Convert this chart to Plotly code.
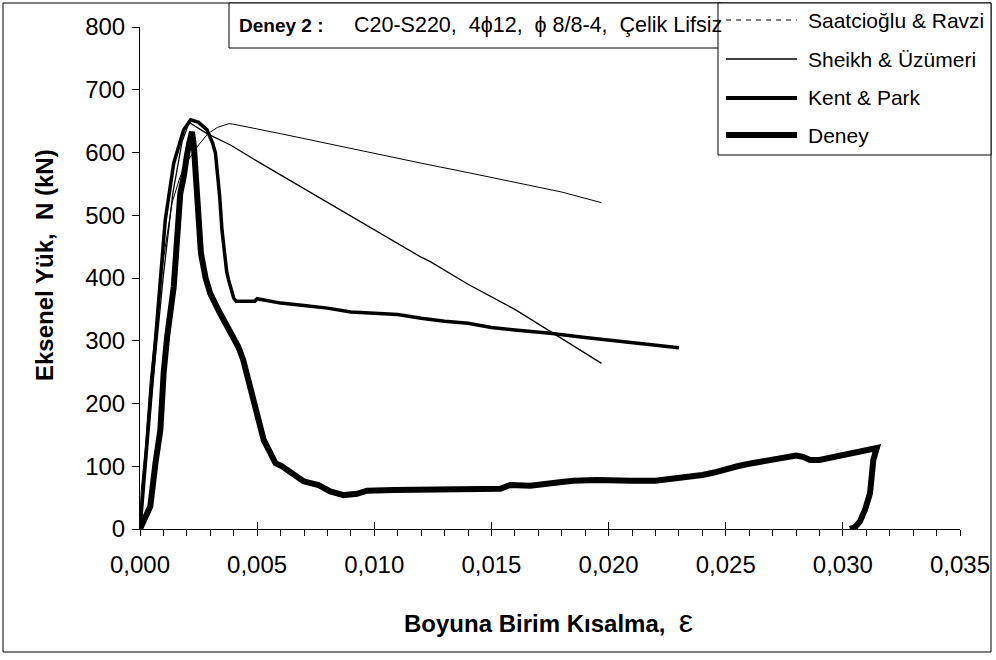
import plotly.graph_objects as go

# ---------------- data ----------------
saat_x = [0, 0.00005, 0.00023, 0.00044, 0.0007, 0.001, 0.00137, 0.0017, 0.002, 0.0025, 0.0029,
          0.0033, 0.0038, 0.004, 0.006, 0.008, 0.010, 0.012, 0.014, 0.016, 0.018, 0.0197]
saat_y = [0, 60, 131, 238, 330, 430, 520, 560, 585, 612, 630,
          640, 646, 645, 630, 614, 599, 583, 568, 552, 537, 520]

sheikh_x = [0, 0.0005, 0.001, 0.0014, 0.0018, 0.0021, 0.00286, 0.00386, 0.00514, 0.008, 0.010,
            0.01196, 0.01239, 0.014, 0.016, 0.018, 0.0197]
sheikh_y = [0, 215, 405, 535, 618, 648, 630, 612, 583, 520, 477,
            434, 426, 390, 350, 304, 264]

kent_x = [0, 0.00066, 0.00108, 0.00144, 0.00186, 0.00216, 0.0025, 0.00286, 0.0031, 0.00322, 0.0034,
          0.0035, 0.0037, 0.00378, 0.0040, 0.0041, 0.0049, 0.0050, 0.006, 0.007, 0.008, 0.009,
          0.010, 0.011, 0.012, 0.013, 0.014, 0.015, 0.016, 0.0175, 0.019, 0.0205, 0.021, 0.022, 0.023]
kent_y = [0, 301, 493, 583, 636, 652, 648, 636, 615, 599, 530,
          476, 410, 397, 368, 363, 363, 367, 360, 356, 352, 346,
          344, 342, 336, 331, 328, 321, 317, 312, 305, 299, 296, 292, 289]

deney_x = [0, 0.0002, 0.00044, 0.00066, 0.00087, 0.00101, 0.00116, 0.00144, 0.00165, 0.00172,
           0.00185, 0.0019, 0.002, 0.0021, 0.00222,
           0.0023, 0.0024, 0.0025, 0.0026, 0.0028, 0.0030, 0.0034, 0.0038, 0.0042, 0.0044,
           0.00471, 0.00506, 0.00528, 0.00578, 0.00606, 0.00698, 0.00762, 0.00812, 0.00869,
           0.00926, 0.00969, 0.01082, 0.0125, 0.014, 0.01538, 0.0158, 0.01666, 0.018, 0.0185,
           0.0195, 0.020, 0.021, 0.022, 0.0225, 0.023, 0.024, 0.0245, 0.025, 0.0255, 0.026,
           0.0265, 0.027, 0.0275, 0.028, 0.0283, 0.0286, 0.029, 0.0295, 0.030, 0.0305, 0.031,
           0.03145, 0.0313, 0.03116, 0.03095, 0.03073, 0.0305, 0.0303]
deney_y = [0, 15, 36, 105, 158, 249, 307, 386, 492, 535,
           558, 575, 595, 615, 633,
           610, 540, 480, 440, 400, 375, 345, 317, 290, 270,
           227, 174, 142, 105, 100, 76, 70, 60, 54,
           56, 61, 62, 63, 63, 64, 70, 69, 75, 77,
           78, 77, 77, 77, 79, 82, 86, 90, 96, 100, 104,
           107, 110, 113, 117, 115, 110, 110, 114, 117, 122, 126,
           129, 110, 57, 31, 12, 2, 0]

series_names = ["Saatcioğlu & Ravzi", "Sheikh & Üzümeri", "Kent & Park", "Deney"]
x_tick_vals = [0, 0.005, 0.010, 0.015, 0.020, 0.025, 0.030, 0.035]
y_tick_vals = [0, 100, 200, 300, 400, 500, 600, 700, 800]

title_bold = "Deney 2 :"
title_rest = "C20-S220,\u00a0\u00a04ϕ12,\u00a0\u00a0ϕ\u00a08/8-4,\u00a0\u00a0Çelik Lifsiz"
x_title = "Boyuna Birim Kısalma,\u00a0\u00a0"
y_title = "Eksenel Yük,\u00a0\u00a0N (kN)"

# ---------------- figure ----------------
FONT = "Arial, Liberation Sans, sans-serif"
W, H = 996, 660
ML, MR, MT, MB = 140, 36, 27, 131
PW, PH = W - ML - MR, H - MT - MB


def px(xp):
    return (xp - ML) / PW


def py(yp):
    return (H - MB - yp) / PH


fig = go.Figure()
widths = [1, 1.3, 3.5, 6]
for name, xs, ys, wd in zip(series_names, [saat_x, sheikh_x, kent_x, deney_x],
                            [saat_y, sheikh_y, kent_y, deney_y], widths):
    fig.add_trace(go.Scatter(x=xs, y=ys, mode="lines", name=name, showlegend=False,
                             line=dict(color="black", width=wd, shape="linear"),
                             hoverinfo="skip"))

# invisible trace on overlay axis for the inner half of crossing major ticks
fig.add_trace(go.Scatter(x=[0, 0.035], y=[0, 0], xaxis="x2", mode="lines",
                         line=dict(width=0, color="rgba(0,0,0,0)"), showlegend=False,
                         hoverinfo="skip"))

fig.update_layout(
    width=W, height=H,
    margin=dict(l=ML, r=MR, t=MT, b=MB, autoexpand=False),
    paper_bgcolor="white", plot_bgcolor="white",
    separators=",.",
    font=dict(family=FONT, color="black"),
    showlegend=False,
    xaxis=dict(range=[0, 0.035], tickvals=x_tick_vals, tickformat=".3f",
               showgrid=False, zeroline=False, showline=True, linecolor="black", linewidth=1,
               ticks="outside", ticklen=6, tickwidth=1, tickcolor="black",
               tickfont=dict(size=24, family=FONT), ticklabelstandoff=8,
               minor=dict(dtick=0.001, tick0=0, ticks="outside", ticklen=6, tickwidth=1,
                          tickcolor="black", showgrid=False)),
    xaxis2=dict(range=[0, 0.035], overlaying="x", tickvals=x_tick_vals, showticklabels=False,
                showgrid=False, zeroline=False, showline=False,
                ticks="inside", ticklen=7, tickwidth=1, tickcolor="black", anchor="y"),
    yaxis=dict(range=[0, 800], tickvals=y_tick_vals, showgrid=False, zeroline=False,
               showline=True, linecolor="black", linewidth=1,
               ticks="outside", ticklen=7, tickwidth=1, tickcolor="black",
               tickfont=dict(size=24, family=FONT), ticklabelstandoff=2),
)

shapes = []
# outer chart border
shapes.append(dict(type="rect", xref="paper", yref="paper", x0=px(3), x1=px(991), y0=py(652), y1=py(3),
                   line=dict(color="black", width=1), fillcolor="rgba(0,0,0,0)", layer="below"))
# title box
shapes.append(dict(type="rect", xref="paper", yref="paper", x0=px(229), x1=px(722), y0=py(48), y1=py(3),
                   line=dict(color="black", width=1), fillcolor="white", layer="above"))
# legend box
shapes.append(dict(type="rect", xref="paper", yref="paper", x0=px(718), x1=px(991), y0=py(155), y1=py(3),
                   line=dict(color="black", width=1), fillcolor="white", layer="above"))
leg_rows = [20, 59, 98, 135]
leg_styles = [dict(width=1, dash="5px,5px"), dict(width=1.5, dash="solid"),
              dict(width=4, dash="solid"), dict(width=6, dash="solid")]
annotations = []
for name, yrow, st in zip(series_names, leg_rows, leg_styles):
    shapes.append(dict(type="line", xref="paper", yref="paper", x0=px(726), x1=px(797),
                       y0=py(yrow), y1=py(yrow), layer="above",
                       line=dict(color="black", width=st["width"], dash=st["dash"])))
    annotations.append(dict(xref="paper", yref="paper", x=px(806), y=py(yrow), text=name,
                            showarrow=False, xanchor="left", yanchor="middle",
                            font=dict(size=21, family=FONT, color="black")))

annotations.append(dict(xref="paper", yref="paper", x=px(237), y=py(25), text="<b>" + title_bold + "</b>",
                        showarrow=False, xanchor="left", yanchor="middle",
                        font=dict(size=19, family=FONT, color="black")))
annotations.append(dict(xref="paper", yref="paper", x=px(352), y=py(25), text=title_rest,
                        showarrow=False, xanchor="left", yanchor="middle",
                        font=dict(size=21.5, family=FONT, color="black")))
annotations.append(dict(xref="paper", yref="paper", x=px(548), y=py(621),
                        text="<b>" + x_title + "</b><span style='font-size:32px'>ε</span>",
                        showarrow=False, xanchor="center", yanchor="middle",
                        font=dict(size=24, family=FONT, color="black")))
annotations.append(dict(xref="paper", yref="paper", x=px(44), y=py(265),
                        text="<b>" + y_title + "</b>", textangle=-90,
                        showarrow=False, xanchor="center", yanchor="middle",
                        font=dict(size=24, family=FONT, color="black")))

fig.update_layout(shapes=shapes, annotations=annotations)
fig.write_html("out.html")
